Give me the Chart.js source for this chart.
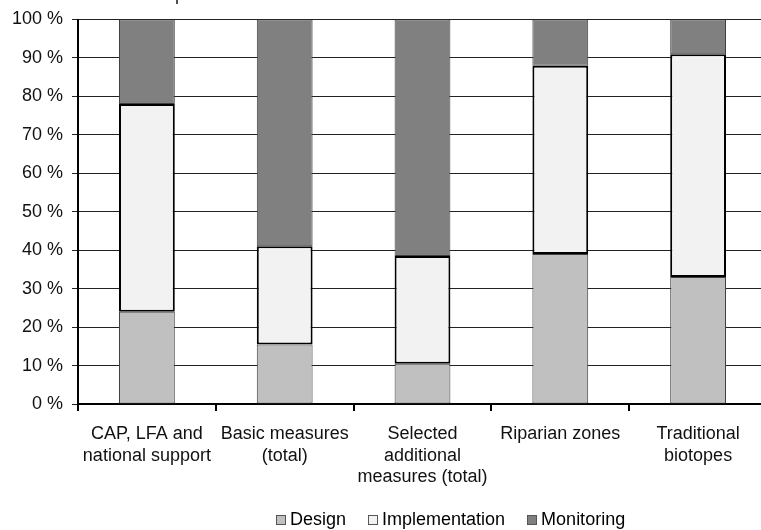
<!DOCTYPE html>
<html>
<head>
<meta charset="utf-8">
<script src="https://cdn.jsdelivr.net/npm/chart.js@4"></script>
<style>
  html, body { margin: 0; padding: 0; background: #fff; overflow: hidden; }
  #wrap { position: relative; width: 761px; height: 530px; overflow: hidden; }
  #box { position: absolute; left: 0; top: 0; width: 775px; height: 530px; }
  #cut { position: absolute; left: 0; top: -16px; font: 18px "Liberation Sans", Arial, sans-serif; color: #222; white-space: nowrap; }
  #legend { position: absolute; top: 509px; left: 276px; font: 18px "Liberation Sans", Arial, sans-serif; color: #000; white-space: nowrap; display: flex; }
  #legend span.item { display: inline-flex; align-items: center; margin-right: 22px; }
  #legend span.sw { display: inline-block; width: 8px; height: 8px; border: 1px solid #555; margin-right: 4px; }
</style>
</head>
<body>
<div id="wrap">
  <div id="box"><canvas id="c" width="775" height="530"></canvas></div>
  <div id="cut">Share of the cost components</div>
  <div id="legend"></div>
</div>
<script>
const categories = [
  ["CAP, LFA and", "national support"],
  ["Basic measures", "(total)"],
  ["Selected", "additional", "measures (total)"],
  ["Riparian zones"],
  ["Traditional", "biotopes"]
];
const seriesNames = ["Design", "Implementation", "Monitoring"];
const design = [24, 15.5, 10.5, 39, 33];
const implementation = [54, 25.5, 28, 49, 58];
const monitoring = [22, 59, 61.5, 12, 9];
const yTicks = [0, 10, 20, 30, 40, 50, 60, 70, 80, 90, 100];

const fills = ["#c0c0c0", "#f2f2f2", "#808080"];
const borders = ["#404040", "#000000", "#404040"];
const bw = [1, 2, 1];
const values = [design, implementation, monitoring];

const datasets = seriesNames.map((n, i) => ({
  label: n,
  data: values[i],
  backgroundColor: fills[i],
  borderColor: borders[i],
  borderWidth: bw[i],
  borderSkipped: false,
  categoryPercentage: 1.0,
  barPercentage: 0.405
}));

const FONT = { family: '"Liberation Sans", Arial, sans-serif', size: 18, lineHeight: 1.17 };

new Chart(document.getElementById('c'), {
  type: 'bar',
  data: { labels: categories, datasets },
  options: {
    responsive: false,
    animation: false,
    layout: { padding: { top: 19, left: 0, right: 8, bottom: 0 } },
    plugins: { legend: { display: false }, tooltip: { enabled: false } },
    scales: {
      x: {
        stacked: true,
        grid: { display: true, drawOnChartArea: false, drawTicks: true, tickLength: 7, color: '#000', lineWidth: 2, offset: true },
        border: { display: true, color: '#000', width: 2 },
        ticks: { color: '#111', font: FONT, padding: 13, maxRotation: 0, autoSkip: false },
        afterFit: s => { s.height = 126; }
      },
      y: {
        stacked: true,
        min: 0, max: 100,
        afterBuildTicks: s => { s.ticks = yTicks.map(v => ({ value: v })); },
        grid: { color: '#222', lineWidth: 1, tickLength: 6 },
        border: { display: true, color: '#000', width: 2 },
        ticks: { color: '#111', font: FONT, padding: 9, callback: v => v + ' %' },
        afterFit: s => { s.width = 78; }
      }
    }
  }
});

const lg = document.getElementById('legend');
seriesNames.forEach((n, i) => {
  const it = document.createElement('span');
  it.className = 'item';
  const sw = document.createElement('span');
  sw.className = 'sw';
  sw.style.background = fills[i];
  it.appendChild(sw);
  it.appendChild(document.createTextNode(n));
  lg.appendChild(it);
});
</script>
</body>
</html>
